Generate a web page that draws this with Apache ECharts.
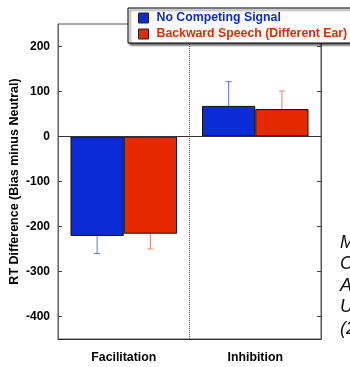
<!DOCTYPE html>
<html>
<head>
<meta charset="utf-8">
<script src="https://cdn.jsdelivr.net/npm/echarts@6/dist/echarts.min.js"></script>
<style>
  html, body { margin: 0; padding: 0; background: #fff; }
  #chart { width: 350px; height: 367px; }
</style>
</head>
<body>
<div id="chart"></div>
<script>
// 数据
const categories = ['Facilitation', 'Inhibition'];
const seriesNames = ['No Competing Signal', 'Backward Speech (Different Ear)'];
const noCompeting = [-221, 68];
const backwardSpeech = [-216, 61];
// 误差线长度 (只画向外一侧)
const noCompetingErr = [39, 54];
const backwardSpeechErr = [34, 40];
const yTicks = [200, 100, 0, -100, -200, -300, -400];

const FONT = 'Liberation Sans, Arial, sans-serif';
const BLUE = '#0a2bd6';
const RED = '#e52900';

let chart = echarts.init(document.getElementById('chart'));

// 误差线 custom series, offset 为柱子偏移 (-1 左, 1 右)
function errSeries(vals, errs, offset, color) {
  return {
    type: 'custom',
    z: 1,
    silent: true,
    data: vals.map(function (v, i) { return [i, v, errs[i]]; }),
    renderItem: function (params, api) {
      let idx = api.value(0);
      let v = api.value(1);
      let e = api.value(2);
      let end = v < 0 ? v - e : v + e;
      let band = api.size([1, 0])[0];
      let bw = band * 0.81 / 2;
      let p0 = api.coord([idx, v]);
      let p1 = api.coord([idx, end]);
      let x = p0[0] + offset * bw / 2;
      return {
        type: 'group',
        children: [
          { type: 'line', shape: { x1: x, y1: p0[1], x2: x, y2: p1[1] }, style: { stroke: color, lineWidth: 1 } },
          { type: 'line', shape: { x1: x - 3, y1: p1[1], x2: x + 3, y2: p1[1] }, style: { stroke: color, lineWidth: 1 } }
        ]
      };
    }
  };
}

let option = {
  backgroundColor: '#fff',
  animation: false,
  textStyle: { fontFamily: FONT },
  grid: {
    left: 58, right: 29, top: 24, bottom: 28,
    outerBoundsMode: 'none', containLabel: false,
    show: true, borderColor: '#555', borderWidth: 1, backgroundColor: 'transparent'
  },
  legend: {
    left: 128, top: 8,
    orient: 'vertical',
    padding: [4, 12, 3, 10],
    itemGap: 4,
    itemWidth: 10, itemHeight: 10,
    backgroundColor: '#fff',
    borderColor: '#000', borderWidth: 1,
    shadowColor: 'rgba(0,0,0,0.6)', shadowOffsetX: 2, shadowOffsetY: 2, shadowBlur: 2,
    icon: 'rect',
    itemStyle: { borderColor: '#222', borderWidth: 1 },
    textStyle: { fontSize: 12.3, fontWeight: 'bold', fontFamily: FONT, padding: [0, 0, 0, 3] },
    data: [
      { name: seriesNames[0], textStyle: { color: BLUE } },
      { name: seriesNames[1], textStyle: { color: RED } }
    ]
  },
  xAxis: {
    type: 'category',
    data: categories,
    axisLine: { onZero: false, lineStyle: { color: '#333' } },
    axisTick: { show: false },
    axisLabel: { color: '#000', fontSize: 12.3, fontWeight: 'bold', margin: 13, fontFamily: FONT },
    splitLine: { show: true, lineStyle: { color: '#555', type: 'dotted' } }
  },
  yAxis: [{
    type: 'value',
    min: -450, max: 250,
    position: 'left',
    name: 'RT Difference (Bias minus Neutral)',
    nameLocation: 'middle',
    nameGap: 37,
    nameMoveOverlap: false,
    nameTextStyle: { color: '#000', fontSize: 12.5, fontWeight: 'bold', fontFamily: FONT },
    axisLine: { show: true, lineStyle: { color: '#666' } },
    axisTick: { show: true, inside: true, length: 4, customValues: yTicks, lineStyle: { color: '#444' } },
    axisLabel: { color: '#000', fontSize: 12, fontWeight: 'bold', margin: 8, customValues: yTicks, fontFamily: FONT },
    splitLine: { show: false }
  }, {
    type: 'value',
    min: -450, max: 250,
    position: 'right',
    axisLine: { show: true, lineStyle: { color: '#555' } },
    axisTick: { show: true, inside: true, length: 4, customValues: yTicks, lineStyle: { color: '#444' } },
    axisLabel: { show: false },
    splitLine: { show: false }
  }],
  series: [
    errSeries(noCompeting, noCompetingErr, -1, '#5a78ee'),
    errSeries(backwardSpeech, backwardSpeechErr, 1, '#f07a6a'),
    {
      name: seriesNames[0],
      type: 'bar',
      z: 2,
      data: noCompeting,
      barGap: '0%',
      barCategoryGap: '19%',
      itemStyle: { color: BLUE, borderColor: '#111', borderWidth: 1 },
      markLine: {
        silent: true,
        symbol: 'none',
        label: { show: false },
        lineStyle: { color: '#333', type: 'solid', width: 1 },
        data: [{ yAxis: 0 }]
      }
    },
    {
      name: seriesNames[1],
      type: 'bar',
      z: 2,
      data: backwardSpeech,
      itemStyle: { color: RED, borderColor: '#111', borderWidth: 1 }
    }
  ],
  graphic: [{
    type: 'text',
    left: 340, top: 232,
    style: {
      text: 'M\nC\nA\nU\n(2',
      font: 'italic 18px ' + FONT,
      lineHeight: 21.5,
      fill: '#111'
    }
  }]
};

chart.setOption(option);
window.onresize = chart.resize;
</script>
</body>
</html>
